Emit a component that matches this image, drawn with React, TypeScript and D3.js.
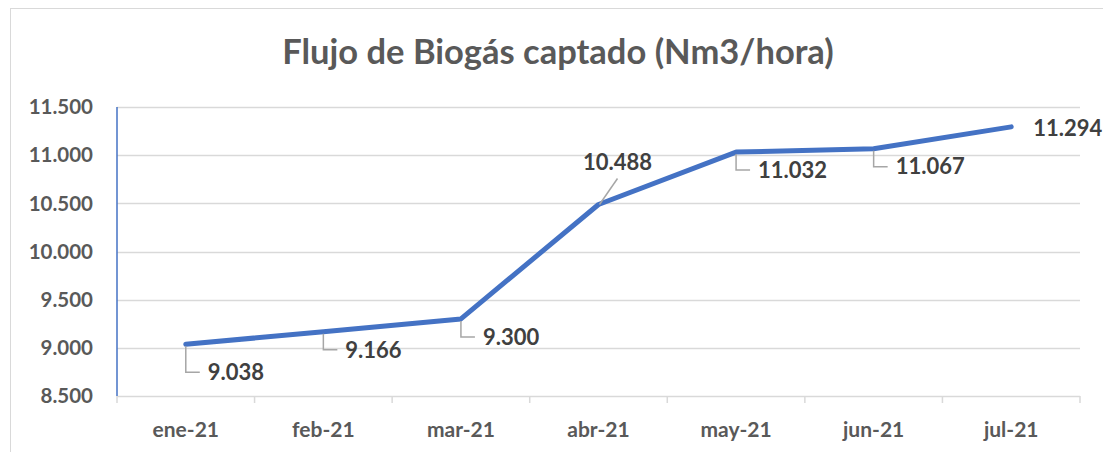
import React, { useEffect, useRef } from 'react';
import * as d3 from 'd3';

const months = ['ene-21', 'feb-21', 'mar-21', 'abr-21', 'may-21', 'jun-21', 'jul-21'];
const flujo = [9038, 9166, 9300, 10488, 11032, 11067, 11294];
const yTicks = [8500, 9000, 9500, 10000, 10500, 11000, 11500];
const title = 'Flujo de Biogás captado (Nm3/hora)';

// where each data label sits relative to its point: 'elbow' = leader down then right
const labelStyle = ['elbow', 'elbow', 'elbow', 'above', 'elbow', 'elbow', 'right'];

const fmt = (v: number) => d3.format(',.0f')(v).replace(/,/g, '.');

function App() {
  const svgRef = useRef<SVGSVGElement>(null);
  const width = 1103;
  const height = 452;

  useEffect(() => {
    const svg = d3.select(svgRef.current);
    svg.selectAll('*').remove();

    const margin = { top: 107, right: 23, bottom: 56, left: 117 };
    const font = 'Lato, "Open Sans", sans-serif';

    svg.append('rect')
      .attr('x', 10.5).attr('y', 8.5)
      .attr('width', width - 10).attr('height', height)
      .attr('fill', '#fff').attr('stroke', '#d9d9d9');

    const x = d3.scaleBand()
      .domain(months)
      .range([margin.left, width - margin.right]);

    const y = d3.scaleLinear()
      .domain([8500, 11500])
      .range([height - margin.bottom, margin.top]);

    // gridlines
    svg.append('g')
      .selectAll('line')
      .data(yTicks)
      .enter()
      .append('line')
      .attr('x1', margin.left).attr('x2', width - margin.right)
      .attr('y1', d => Math.round(y(d)) + 0.5).attr('y2', d => Math.round(y(d)) + 0.5)
      .attr('stroke', '#d9d9d9').attr('stroke-width', 1.5);

    // x axis tick marks
    const bounds = months.map(m => x(m) as number).concat([width - margin.right]);
    svg.append('g')
      .selectAll('line')
      .data(bounds)
      .enter()
      .append('line')
      .attr('x1', d => d).attr('x2', d => d)
      .attr('y1', y(8500)).attr('y2', y(8500) + 7)
      .attr('stroke', '#d9d9d9').attr('stroke-width', 1.5);

    // y axis line
    svg.append('line')
      .attr('x1', margin.left).attr('x2', margin.left)
      .attr('y1', margin.top).attr('y2', y(8500))
      .attr('stroke', '#4472c4').attr('stroke-width', 1.5);

    svg.append('text')
      .attr('x', 558).attr('y', 64)
      .attr('text-anchor', 'middle')
      .attr('font-family', font).attr('font-weight', 'bold')
      .attr('font-size', 34.5).attr('fill', '#595959')
      .text(title);

    svg.append('g')
      .selectAll('text')
      .data(yTicks)
      .enter()
      .append('text')
      .attr('x', 93).attr('y', d => y(d))
      .attr('dy', '0.35em')
      .attr('text-anchor', 'end')
      .attr('font-family', font).attr('font-weight', 'bold')
      .attr('font-size', 20.5).attr('fill', '#595959')
      .text(d => fmt(d));

    svg.append('g')
      .selectAll('text')
      .data(months)
      .enter()
      .append('text')
      .attr('x', d => (x(d) as number) + x.bandwidth() / 2)
      .attr('y', 437)
      .attr('text-anchor', 'middle')
      .attr('font-family', font).attr('font-weight', 'bold')
      .attr('font-size', 21).attr('fill', '#595959')
      .text(d => d);

    const cx = (i: number) => (x(months[i]) as number) + x.bandwidth() / 2;

    const line = d3.line<number>()
      .x((d, i) => cx(i))
      .y(d => y(d));

    svg.append('path')
      .datum(flujo)
      .attr('d', line)
      .attr('fill', 'none')
      .attr('stroke', '#4472c4')
      .attr('stroke-width', 5)
      .attr('stroke-linecap', 'round')
      .attr('stroke-linejoin', 'round');

    const labels = svg.append('g');
    flujo.forEach((v, i) => {
      const px = cx(i);
      const py = y(v);
      const kind = labelStyle[i];
      let tx = px + 22;
      let ty = py + 30;
      let anchor = 'start';
      if (kind === 'elbow') {
        const drop = i === 0 ? 28 : 18;
        ty = py + drop;
        labels.append('path')
          .attr('d', `M${px},${py + 2}V${ty}H${px + 14}`)
          .attr('fill', 'none').attr('stroke', '#a6a6a6').attr('stroke-width', 1.5);
      } else if (kind === 'above') {
        labels.append('line')
          .attr('x1', px + 1).attr('y1', py)
          .attr('x2', px + 19).attr('y2', py - 26)
          .attr('stroke', '#a6a6a6').attr('stroke-width', 1.5);
        tx = px + 19;
        ty = py - 42;
        anchor = 'middle';
      } else {
        ty = py + 1;
      }
      labels.append('text')
        .attr('x', tx).attr('y', ty)
        .attr('dy', '0.35em')
        .attr('text-anchor', anchor)
        .attr('font-family', font).attr('font-weight', 'bold')
        .attr('font-size', 22).attr('fill', '#404040')
        .text(fmt(v));
    });
  }, []);

  return (
    <svg ref={svgRef} width={width} height={height}
      style={{ position: 'absolute', left: 0, top: 0, display: 'block' }} />
  );
}

export default App;
